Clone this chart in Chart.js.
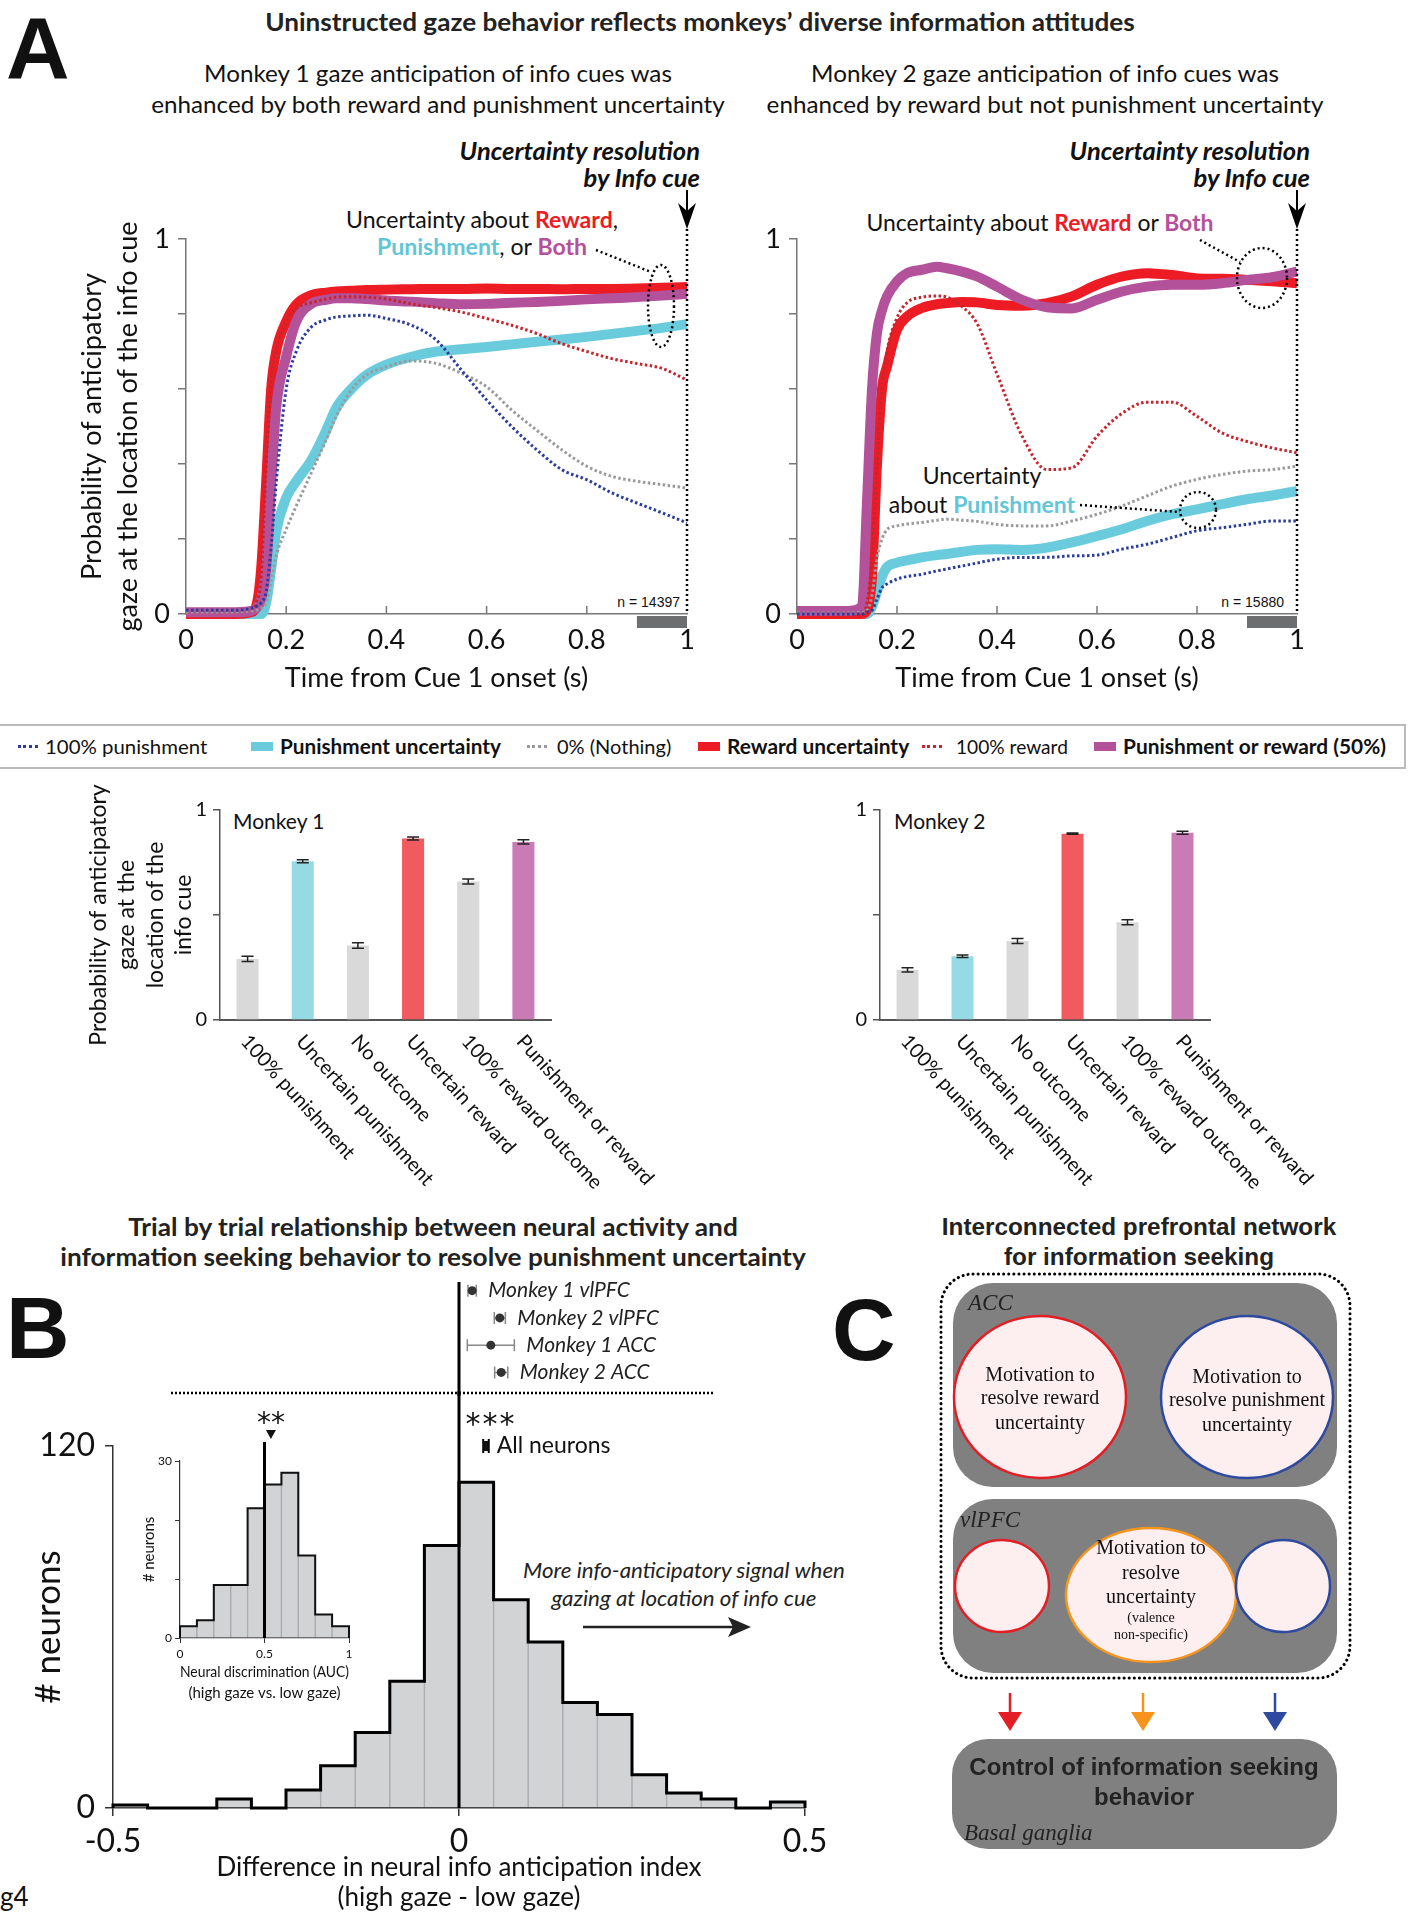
<!DOCTYPE html>
<html>
<head>
<meta charset="utf-8">
<script src="https://cdn.jsdelivr.net/npm/chart.js@4.4.1/dist/chart.umd.min.js"></script>
<style>
  body { margin: 0; background: #fff; }
  #page { position: relative; width: 1417px; height: 1920px; overflow: hidden; font-family: Lato, "Open Sans", sans-serif; color: #111; }
  .abs { position: absolute; white-space: nowrap; }
  .c { transform: translateX(-50%); text-align: center; }
  .r { transform: translateX(-100%); text-align: right; }
  .arial { font-family: "Liberation Sans", Arial, sans-serif; }
  canvas { position: absolute; }
  .red { color: #ed1c24; font-weight: bold; }
  .cyan { color: #62c6d8; font-weight: bold; }
  .purple { color: #b4519b; font-weight: bold; }
  .swd { position: absolute; top: 19px; width: 20px; height: 0; border-top: 3px dotted; }
  .swt { position: absolute; top: 16px; width: 22px; height: 9px; }
</style>
</head>
<body>
<div id="page">

  <div class="abs arial" style="left:6px;top:4px;font-size:88px;line-height:88px;font-weight:bold;">A</div>
  <div class="abs arial" style="left:6px;top:1284px;font-size:88px;line-height:88px;font-weight:bold;">B</div>
  <div class="abs arial" style="left:832px;top:1286px;font-size:88px;line-height:88px;font-weight:bold;">C</div>

  <div class="abs c" data-w="870" style="left:700px;top:8px;font-size:24px;line-height:28px;font-weight:bold;color:#222;">Uninstructed gaze behavior reflects monkeys’ diverse information attitudes</div>

  <div class="abs c" data-w="574" style="left:438px;top:57px;font-size:24px;line-height:31px;">Monkey 1 gaze anticipation of info cues was<br>enhanced by both reward and punishment uncertainty</div>
  <div class="abs c" data-w="557" style="left:1045px;top:57px;font-size:24px;line-height:31px;">Monkey 2 gaze anticipation of info cues was<br>enhanced by reward but not punishment uncertainty</div>

  <div class="abs r" data-w="240" style="left:700px;top:137px;font-size:25px;line-height:27px;font-weight:bold;font-style:italic;">Uncertainty resolution<br>by Info cue</div>
  <div class="abs r" data-w="240" style="left:1310px;top:137px;font-size:25px;line-height:27px;font-weight:bold;font-style:italic;">Uncertainty resolution<br>by Info cue</div>

  <div class="abs c" data-w="272" style="left:482px;top:206px;font-size:23px;line-height:27px;">Uncertainty about <span class="red">Reward</span>,<br><span class="cyan">Punishment</span>, or <span class="purple">Both</span></div>
  <div class="abs c" data-w="347" style="left:1040px;top:209px;font-size:23px;line-height:27px;">Uncertainty about <span class="red">Reward</span> or <span class="purple">Both</span></div>
  <div class="abs c" data-w="186" style="left:982px;top:461px;font-size:23px;line-height:29px;">Uncertainty<br>about <span class="cyan">Punishment</span></div>

  <div class="abs r arial" style="left:680px;top:593px;font-size:14px;line-height:18px;">n = 14397</div>
  <div class="abs r arial" style="left:1284px;top:593px;font-size:14px;line-height:18px;">n = 15880</div>

  <div id="legend" class="abs" style="left:0;top:724px;width:1404px;height:41px;border-top:2px solid #bbb;border-bottom:2px solid #bbb;border-right:2px solid #bbb;"></div>

  <div class="abs" style="left:233px;top:807px;font-size:21px;line-height:27px;">Monkey 1</div>
  <div class="abs" style="left:894px;top:807px;font-size:21px;line-height:27px;">Monkey 2</div>

  <div class="abs c" data-w="745" style="left:433px;top:1212px;font-size:24px;line-height:30px;font-weight:bold;color:#222;">Trial by trial relationship between neural activity and<br>information seeking behavior to resolve punishment uncertainty</div>
  <div class="abs c arial" data-w="394" style="left:1139px;top:1212px;font-size:24px;line-height:30px;font-weight:bold;color:#222;">Interconnected prefrontal network<br>for information seeking</div>

  <div class="abs c" data-w="322" style="left:684px;top:1556px;font-size:21px;line-height:28px;font-style:italic;color:#222;">More info-anticipatory signal when<br>gazing at location of info cue</div>

  <div class="abs" style="left:0px;top:1880px;font-size:26px;line-height:32px;">g4</div>

  <canvas id="lineM1" width="720" height="560" style="left:0;top:150px;"></canvas>
  <canvas id="lineM2" width="697" height="560" style="left:720px;top:150px;"></canvas>
  <canvas id="barM1" width="680" height="420" style="left:60px;top:780px;"></canvas>
  <canvas id="barM2" width="577" height="420" style="left:840px;top:780px;"></canvas>
  <canvas id="forest" width="820" height="126" style="left:0;top:1270px;"></canvas>
  <canvas id="hist" width="840" height="529" style="left:0;top:1391px;"></canvas>
  <canvas id="inset" width="300" height="310" style="left:100px;top:1400px;"></canvas>

  <svg width="1417" height="1920" style="position:absolute;left:0;top:0;" xmlns="http://www.w3.org/2000/svg">
    <g stroke="#000" fill="#000">
      <line x1="687" y1="190" x2="687" y2="212" stroke-width="2"/>
      <path d="M687 229 L678 203 L687 211 L696 203 Z" stroke="none"/>
      <line x1="687" y1="229" x2="687" y2="614" stroke-width="2.5" stroke-dasharray="2 3"/>
      <line x1="1297" y1="190" x2="1297" y2="212" stroke-width="2"/>
      <path d="M1297 229 L1288 203 L1297 211 L1306 203 Z" stroke="none"/>
      <line x1="1297" y1="229" x2="1297" y2="614" stroke-width="2.5" stroke-dasharray="2 3"/>
    </g>
    <g fill="none" stroke="#000" stroke-width="2.5" stroke-dasharray="2 3">
      <ellipse cx="661" cy="306" rx="13" ry="41"/>
      <line x1="596" y1="250" x2="651" y2="272"/>
      <ellipse cx="1262" cy="278" rx="25" ry="30"/>
      <line x1="1200" y1="240" x2="1240" y2="262"/>
      <ellipse cx="1198" cy="510" rx="18" ry="18"/>
      <line x1="1080" y1="505" x2="1180" y2="512"/>
    </g>
    <line x1="583" y1="1627" x2="735" y2="1627" stroke="#222" stroke-width="2.5"/>
    <path d="M751 1627 L728 1617 L733 1627 L728 1637 Z" fill="#222"/>

    <!-- panel C -->
    <rect x="941" y="1274" width="409" height="404" rx="32" fill="none" stroke="#000" stroke-width="3" stroke-dasharray="0.1 5" stroke-linecap="round"/>
    <rect x="953" y="1283" width="384" height="204" rx="40" fill="#808080"/>
    <rect x="953" y="1499" width="384" height="174" rx="40" fill="#808080"/>
    <g font-family="Liberation Serif, DejaVu Serif, serif" font-style="italic" font-size="23" fill="#222">
      <text x="968" y="1310">ACC</text>
      <text x="960" y="1527">vlPFC</text>
    </g>
    <g stroke-width="2.5" fill="#fdeef0">
      <ellipse cx="1040" cy="1397" rx="86" ry="81" stroke="#e31e24"/>
      <ellipse cx="1247" cy="1397" rx="86" ry="81" stroke="#2e4aa0"/>
      <ellipse cx="1002" cy="1586" rx="47" ry="46" stroke="#e31e24"/>
      <ellipse cx="1151" cy="1595" rx="85" ry="67" stroke="#f7941d"/>
      <ellipse cx="1283" cy="1586" rx="47" ry="46" stroke="#2e4aa0"/>
    </g>
    <g font-family="Liberation Serif, DejaVu Serif, serif" font-size="20" fill="#111" text-anchor="middle">
      <text x="1040" y="1381">Motivation to</text>
      <text x="1040" y="1404">resolve reward</text>
      <text x="1040" y="1429">uncertainty</text>
      <text x="1247" y="1383">Motivation to</text>
      <text x="1247" y="1406">resolve punishment</text>
      <text x="1247" y="1431">uncertainty</text>
      <text x="1151" y="1554">Motivation to</text>
      <text x="1151" y="1579">resolve</text>
      <text x="1151" y="1603">uncertainty</text>
      <text x="1151" y="1622" font-size="14">(valence</text>
      <text x="1151" y="1639" font-size="14">non-specific)</text>
    </g>
    <g stroke-width="2.5">
      <line x1="1010" y1="1693" x2="1010" y2="1713" stroke="#e31e24"/>
      <path d="M998 1712 L1022 1712 L1010 1731 Z" fill="#e31e24"/>
      <line x1="1143" y1="1693" x2="1143" y2="1713" stroke="#f7941d"/>
      <path d="M1131 1712 L1155 1712 L1143 1731 Z" fill="#f7941d"/>
      <line x1="1275" y1="1693" x2="1275" y2="1713" stroke="#2e4aa0"/>
      <path d="M1263 1712 L1287 1712 L1275 1731 Z" fill="#2e4aa0"/>
    </g>
    <rect x="952" y="1739" width="385" height="110" rx="36" fill="#808080"/>
    <g font-family="Liberation Sans, Arial, sans-serif" font-weight="bold" font-size="24" fill="#222" text-anchor="middle">
      <text x="1144" y="1775">Control of information seeking</text>
      <text x="1144" y="1805">behavior</text>
    </g>
    <text x="964" y="1840" font-family="Liberation Serif, DejaVu Serif, serif" font-style="italic" font-size="23" fill="#222">Basal ganglia</text>
  </svg>
</div>

<script>
// ---------- data ----------
const timeS = [0, 0.1, 0.13, 0.14, 0.15, 0.16, 0.17, 0.18, 0.2, 0.22, 0.25, 0.28, 0.3, 0.33, 0.36, 0.4, 0.45, 0.5, 0.55, 0.6, 0.65, 0.7, 0.75, 0.8, 0.85, 0.9, 0.95, 1.0];

const seriesLabels = ['100% punishment', 'Punishment uncertainty', '0% (Nothing)', 'Reward uncertainty', '100% reward', 'Punishment or reward (50%)'];
const seriesColors = ['#2b3d9b', '#6acbdc', '#9a9a9a', '#ed1c24', '#c4262e', '#b4519b'];
const seriesDotted = [true, false, true, false, true, false];
const seriesOrder  = [0, 3, 0, 2, 0, 1];

// monkey 1 gaze probability
const m1Pun100  = [0.01,0.01,0.015,0.02,0.03,0.06,0.18,0.35,0.6,0.7,0.765,0.785,0.792,0.795,0.797,0.788,0.77,0.73,0.65,0.571,0.5,0.438,0.385,0.358,0.323,0.296,0.27,0.243];
const m1PunUnc  = [0,0,0,0,0,0.03,0.12,0.22,0.31,0.354,0.41,0.49,0.55,0.6,0.637,0.665,0.686,0.7,0.706,0.712,0.719,0.726,0.732,0.739,0.747,0.755,0.763,0.773];
const m1Nothing = [0.005,0.005,0.008,0.01,0.015,0.03,0.09,0.155,0.226,0.288,0.376,0.465,0.527,0.597,0.637,0.659,0.675,0.668,0.642,0.606,0.544,0.49,0.438,0.394,0.367,0.354,0.345,0.336];
const m1RewUnc  = [0,0,0.005,0.02,0.12,0.35,0.6,0.7,0.78,0.825,0.85,0.857,0.86,0.862,0.864,0.865,0.866,0.867,0.867,0.868,0.867,0.867,0.866,0.867,0.867,0.868,0.87,0.872];
const m1Rew100  = [0.005,0.005,0.01,0.03,0.1,0.4,0.62,0.7,0.78,0.815,0.83,0.84,0.845,0.846,0.845,0.84,0.827,0.817,0.805,0.788,0.77,0.748,0.721,0.7,0.681,0.668,0.655,0.624];
const m1Both    = [0.005,0.005,0.008,0.015,0.04,0.12,0.35,0.55,0.686,0.78,0.827,0.838,0.842,0.842,0.84,0.836,0.833,0.829,0.826,0.827,0.83,0.832,0.835,0.839,0.842,0.845,0.849,0.854];

// monkey 2 gaze probability
const m2Pun100  = [0,0,0,0.005,0.01,0.04,0.07,0.08,0.093,0.1,0.106,0.115,0.12,0.128,0.136,0.146,0.151,0.151,0.155,0.157,0.173,0.186,0.204,0.222,0.23,0.239,0.248,0.248];
const m2PunUnc  = [0,0,0,0,0.02,0.06,0.1,0.125,0.137,0.143,0.151,0.157,0.16,0.166,0.171,0.173,0.171,0.177,0.191,0.208,0.226,0.248,0.266,0.279,0.293,0.306,0.316,0.328];
const m2Nothing = [0.003,0.003,0.005,0.01,0.05,0.15,0.2,0.225,0.235,0.24,0.244,0.25,0.253,0.25,0.247,0.239,0.235,0.235,0.248,0.266,0.288,0.315,0.341,0.359,0.372,0.381,0.385,0.394];
const m2RewUnc  = [0,0,0,0.01,0.1,0.4,0.6,0.66,0.758,0.793,0.816,0.826,0.829,0.832,0.831,0.824,0.822,0.829,0.847,0.878,0.9,0.909,0.904,0.895,0.894,0.891,0.887,0.882];
const m2Rew100  = [0,0,0.005,0.03,0.15,0.4,0.6,0.7,0.79,0.83,0.845,0.848,0.845,0.82,0.775,0.64,0.475,0.385,0.39,0.474,0.535,0.565,0.565,0.527,0.483,0.46,0.443,0.43];
const m2Both    = [0.008,0.008,0.02,0.3,0.6,0.75,0.81,0.847,0.887,0.909,0.918,0.926,0.922,0.913,0.9,0.873,0.838,0.818,0.815,0.838,0.86,0.873,0.878,0.878,0.882,0.891,0.898,0.913];

const cueWindow = [0.9, 1.0];

// bar summaries
const barCats   = ['100% punishment', 'Uncertain punishment', 'No outcome', 'Uncertain reward', '100% reward outcome', 'Punishment or reward'];
const barColors = ['#d9d9d9', '#96dae6', '#d9d9d9', '#f15a5e', '#d9d9d9', '#c97bb6'];
const m1Bars = [0.291, 0.756, 0.355, 0.864, 0.660, 0.848];
const m1Err  = [0.012, 0.007, 0.013, 0.007, 0.012, 0.010];
const m2Bars = [0.239, 0.304, 0.376, 0.887, 0.465, 0.892];
const m2Err  = [0.010, 0.006, 0.012, 0.003, 0.012, 0.007];

// panel B
const diffEdges  = [-0.5,-0.45,-0.4,-0.35,-0.3,-0.25,-0.2,-0.15,-0.1,-0.05,0,0.05,0.1,0.15,0.2,0.25,0.3,0.35,0.4,0.45,0.5];
const diffCounts = [1,0,0,3,0,6,14,25,42,87,108,69,55,35,31,11,5,3,0,2];
const aucEdges   = [0,0.1,0.2,0.3,0.4,0.5,0.6,0.7,0.8,0.9,1];
const aucCounts  = [2,3,9,9,22,26,28,14,4,2];
const aucMarker  = 0.538;
const forestNames = ['Monkey 1 vlPFC', 'Monkey 2 vlPFC', 'Monkey 1 ACC', 'Monkey 2 ACC'];
const forestMean  = [0.019, 0.059, 0.046, 0.061];
const forestErr   = [0.006, 0.008, 0.034, 0.0095];
const allMean = 0.039, allErr = 0.004;

// ---------- setup ----------
Chart.defaults.font.family = 'Lato, "Open Sans", sans-serif';
Chart.defaults.color = '#111';
Chart.defaults.animation = false;
Chart.defaults.plugins.legend.display = false;
Chart.defaults.plugins.tooltip.enabled = false;

const AX = '#777';
const fmt1 = v => String(Math.round(v * 10) / 10);

// legend strip
const legendX = [18, 251, 527, 698, 922, 1094];
const legendTextX = [45, 280, 557, 727, 956, 1123];
const legendTextW = [162, 221, 114, 182, 112, 263];
const legendBox = document.getElementById('legend');
seriesLabels.forEach((lab, i) => {
  const sw = document.createElement('span');
  sw.style.left = legendX[i] + 'px';
  if (seriesDotted[i]) { sw.className = 'swd'; sw.style.borderTopColor = seriesColors[i]; }
  else { sw.className = 'swt'; sw.style.background = seriesColors[i]; }
  legendBox.appendChild(sw);
  const t = document.createElement('div');
  t.className = 'abs';
  t.dataset.w = legendTextW[i];
  t.style.left = legendTextX[i] + 'px';
  t.style.top = '8px';
  t.style.fontSize = '20px';
  t.style.lineHeight = '24px';
  t.style.fontWeight = seriesDotted[i] ? 'normal' : 'bold';
  t.textContent = lab;
  legendBox.appendChild(t);
});

// squeeze text blocks to the reference's (narrow-font) widths
function fitText() {
  document.querySelectorAll('[data-w]').forEach(el => {
    const k = (+el.dataset.w) / el.scrollWidth;
    if (el.classList.contains('c')) { el.style.transformOrigin = 'center'; el.style.transform = `translateX(-50%) scaleX(${k})`; }
    else if (el.classList.contains('r')) { el.style.transformOrigin = 'right'; el.style.transform = `translateX(-100%) scaleX(${k})`; }
    else { el.style.transformOrigin = 'left'; el.style.transform = `scaleX(${k})`; }
  });
}
fitText();
if (document.fonts && document.fonts.ready) document.fonts.ready.then(fitText);

// ---------- panel A: time courses ----------
const lineExtras = {
  id: 'lineExtras',
  afterDraw(chart) {
    const {ctx, chartArea: a, scales: {x}} = chart;
    ctx.save();
    ctx.strokeStyle = AX;
    ctx.lineWidth = 1.5;
    x.ticks.forEach(t => {
      if (t.value > 0 && t.value < 1) {
        const px = x.getPixelForValue(t.value);
        ctx.beginPath(); ctx.moveTo(px, a.bottom); ctx.lineTo(px, a.bottom - 8); ctx.stroke();
      }
    });
    const x0 = x.getPixelForValue(cueWindow[0]), x1 = x.getPixelForValue(cueWindow[1]);
    ctx.fillStyle = '#6d6e70';
    ctx.fillRect(x0, a.bottom + 2, x1 - x0, 12);
    ctx.restore();
  }
};

function makeLineChart(id, values, o) {
  const datasets = values.map((vals, i) => ({
    label: seriesLabels[i],
    data: timeS.map((t, j) => ({x: t, y: vals[j]})),
    borderColor: seriesColors[i],
    borderWidth: seriesDotted[i] ? 3 : 10,
    borderDash: seriesDotted[i] ? [2.5, 2.5] : [],
    order: seriesOrder[i],
    pointRadius: 0,
    cubicInterpolationMode: 'monotone',
    clip: false
  }));
  return new Chart(document.getElementById(id), {
    type: 'line',
    data: {datasets},
    options: {
      responsive: false,
      layout: {padding: o.padding},
      scales: {
        x: {
          type: 'linear', min: 0, max: 1,
          ticks: {stepSize: 0.2, font: {size: 27}, padding: 10, callback: fmt1},
          grid: {drawOnChartArea: false, drawTicks: false},
          border: {color: AX, width: 1.5},
          title: {display: true, text: 'Time from Cue 1 onset (s)', font: {size: 27}, padding: {top: 0, bottom: 16}},
          afterFit: s => { s.height = o.xH; }
        },
        y: {
          min: 0, max: 1,
          ticks: {stepSize: 0.2, font: {size: 27}, padding: 8, callback: v => (v === 0 || v === 1) ? String(v) : ''},
          grid: {drawOnChartArea: false, tickLength: 8, color: AX, lineWidth: 1.5},
          border: {color: AX, width: 1.5},
          title: o.yTitle,
          afterFit: s => { s.width = o.yW; }
        }
      }
    },
    plugins: [lineExtras]
  });
}

makeLineChart('lineM1', [m1Pun100, m1PunUnc, m1Nothing, m1RewUnc, m1Rew100, m1Both], {
  padding: {top: 89, right: 33, left: 0, bottom: 0}, xH: 96, yW: 186,
  yTitle: {display: true, text: ['Probability of anticipatory', 'gaze at the location of the info cue'],
           font: {size: 27, lineHeight: 1.333}, padding: {top: 74, bottom: 0}}
});
makeLineChart('lineM2', [m2Pun100, m2PunUnc, m2Nothing, m2RewUnc, m2Rew100, m2Both], {
  padding: {top: 89, right: 120, left: 0, bottom: 0}, xH: 96, yW: 77,
  yTitle: {display: false}
});

// ---------- panel A: bar summaries ----------
function barExtras(errs) {
  return {
    id: 'barExtras',
    afterDraw(chart) {
      const {ctx, chartArea: a, scales: {x, y}} = chart;
      const vals = chart.data.datasets[0].data;
      ctx.save();
      ctx.strokeStyle = '#222';
      ctx.lineWidth = 1.5;
      vals.forEach((v, i) => {
        const px = x.getPixelForValue(i);
        const yt = y.getPixelForValue(v + errs[i]), yb = y.getPixelForValue(v - errs[i]);
        ctx.beginPath();
        ctx.moveTo(px, yt); ctx.lineTo(px, yb);
        ctx.moveTo(px - 6, yt); ctx.lineTo(px + 6, yt);
        ctx.moveTo(px - 6, yb); ctx.lineTo(px + 6, yb);
        ctx.stroke();
      });
      ctx.fillStyle = '#111';
      ctx.font = '20px Lato, "Open Sans", sans-serif';
      ctx.textBaseline = 'middle';
      ctx.textAlign = 'left';
      chart.data.labels.forEach((lab, i) => {
        ctx.save();
        ctx.translate(x.getPixelForValue(i) - 3, a.bottom + 18);
        ctx.rotate(48 * Math.PI / 180);
        ctx.fillText(lab, 0, 0);
        ctx.restore();
      });
      ctx.restore();
    }
  };
}

function makeBarChart(id, vals, errs, o) {
  return new Chart(document.getElementById(id), {
    type: 'bar',
    data: {labels: barCats, datasets: [{data: vals, backgroundColor: barColors, barPercentage: 0.4, categoryPercentage: 1}]},
    options: {
      responsive: false,
      layout: {padding: o.padding},
      scales: {
        x: {
          ticks: {display: false},
          grid: {display: false},
          border: {color: '#555', width: 2},
          afterFit: s => { s.height = o.xH; }
        },
        y: {
          min: 0, max: 1,
          ticks: {stepSize: 0.5, font: {size: 20}, padding: 6, callback: v => (v === 0 || v === 1) ? String(v) : ''},
          grid: {drawOnChartArea: false, tickLength: 7, color: '#555', lineWidth: 1.5},
          border: {color: '#555', width: 1.5},
          title: o.yTitle,
          afterFit: s => { s.width = o.yW; }
        }
      }
    },
    plugins: [barExtras(errs)]
  });
}

makeBarChart('barM1', m1Bars, m1Err, {
  padding: {top: 30, right: 189, left: 0, bottom: 0}, xH: 180, yW: 160,
  yTitle: {display: true, text: ['Probability of anticipatory', 'gaze at the', 'location of the', 'info cue'],
           font: {size: 23, lineHeight: 1.24}, padding: {top: 24, bottom: 0}}
});
makeBarChart('barM2', m2Bars, m2Err, {
  padding: {top: 30, right: 207, left: 0, bottom: 0}, xH: 180, yW: 40,
  yTitle: {display: false}
});

// ---------- panel B ----------
function stepOutline(edges, counts) {
  const pts = [{x: edges[0], y: 0}];
  counts.forEach((c, i) => pts.push({x: edges[i], y: c}));
  pts.push({x: edges[edges.length - 1], y: 0});
  return pts;
}
function binCenters(edges, counts) {
  return counts.map((c, i) => ({x: (edges[i] + edges[i + 1]) / 2, y: c}));
}

// forest plot rows above the histogram
const forestExtras = {
  id: 'forestExtras',
  beforeDatasetsDraw(chart) {
    const {ctx, scales: {x, y}} = chart;
    const x0 = x.getPixelForValue(0);
    ctx.save();
    ctx.strokeStyle = '#000';
    ctx.lineWidth = 3;
    ctx.beginPath(); ctx.moveTo(x0, 12); ctx.lineTo(x0, chart.height); ctx.stroke();
    ctx.lineWidth = 1.5;
    ctx.strokeStyle = '#888';
    ctx.font = 'italic 21px Lato, "Open Sans", sans-serif';
    ctx.fillStyle = '#222';
    ctx.textBaseline = 'middle';
    forestNames.forEach((n, i) => {
      const py = y.getPixelForValue(i);
      const xl = x.getPixelForValue(forestMean[i] - forestErr[i]);
      const xr = x.getPixelForValue(forestMean[i] + forestErr[i]);
      ctx.beginPath();
      ctx.moveTo(xl, py); ctx.lineTo(xr, py);
      ctx.moveTo(xl, py - 6); ctx.lineTo(xl, py + 6);
      ctx.moveTo(xr, py - 6); ctx.lineTo(xr, py + 6);
      ctx.stroke();
      ctx.fillText(n, xr + 12, py);
    });
    ctx.strokeStyle = '#000';
    ctx.lineWidth = 2.5;
    ctx.setLineDash([2, 2]);
    ctx.beginPath(); ctx.moveTo(171, 123); ctx.lineTo(713, 123); ctx.stroke();
    ctx.restore();
  }
};

new Chart(document.getElementById('forest'), {
  type: 'scatter',
  data: {datasets: [{data: forestMean.map((m, i) => ({x: m, y: forestNames[i]})), pointRadius: 4.5, pointBackgroundColor: '#333', pointBorderWidth: 0}]},
  options: {
    responsive: false,
    layout: {padding: {left: 113, right: 15, top: 7, bottom: 10}},
    scales: {
      x: {type: 'linear', min: -0.5, max: 0.5, display: false},
      y: {type: 'category', labels: forestNames, offset: true, display: false}
    }
  },
  plugins: [forestExtras]
});

const histExtras = {
  id: 'histExtras',
  afterDatasetsDraw(chart) {
    const {ctx, chartArea: a, scales: {x}} = chart;
    const x0 = x.getPixelForValue(0);
    ctx.save();
    ctx.strokeStyle = '#000';
    ctx.lineWidth = 3;
    ctx.beginPath(); ctx.moveTo(x0, 0); ctx.lineTo(x0, a.bottom); ctx.stroke();
    // all-neurons mean
    const xl = x.getPixelForValue(allMean - allErr), xr = x.getPixelForValue(allMean + allErr);
    ctx.lineWidth = 2;
    ctx.beginPath();
    ctx.moveTo(xl, a.top - 7); ctx.lineTo(xl, a.top + 7);
    ctx.moveTo(xr, a.top - 7); ctx.lineTo(xr, a.top + 7);
    ctx.stroke();
    ctx.fillStyle = '#111';
    ctx.fillRect(xl, a.top - 5, xr - xl, 10);
    ctx.font = '23px Lato, "Open Sans", sans-serif';
    ctx.textBaseline = 'middle';
    ctx.fillText('All neurons', xr + 8, a.top);
    ctx.font = '30px "DejaVu Sans", sans-serif';
    ctx.textAlign = 'center';
    ctx.textBaseline = 'alphabetic';
    [0, 1, 2].forEach(k => ctx.fillText('*', x0 + 14 + 17 * k, a.top - 12));
    ctx.restore();
  }
};

new Chart(document.getElementById('hist'), {
  data: {
    datasets: [
      {type: 'line', data: stepOutline(diffEdges, diffCounts), stepped: 'before', borderColor: '#000', borderWidth: 3, pointRadius: 0, clip: false},
      {type: 'bar', data: binCenters(diffEdges, diffCounts), backgroundColor: '#d1d3d4', borderColor: '#a7a9ac', borderWidth: 1, barPercentage: 1, categoryPercentage: 1, grouped: false}
    ]
  },
  options: {
    responsive: false,
    layout: {padding: {left: 0, right: 35, top: 55, bottom: 0}},
    scales: {
      x: {
        type: 'linear', min: -0.5, max: 0.5, offset: false,
        ticks: {stepSize: 0.5, font: {size: 32}, padding: 6},
        grid: {drawOnChartArea: false, tickLength: 8, color: '#333', lineWidth: 1.5, offset: false},
        border: {color: '#333', width: 1.5},
        title: {display: true, text: ['Difference in neural info anticipation index', '(high gaze - low gaze)'], font: {size: 26, lineHeight: 1.13}, padding: {top: 0, bottom: 8}},
        afterFit: s => { s.height = 112; }
      },
      y: {
        min: 0, max: 120,
        ticks: {stepSize: 120, font: {size: 32}, padding: 10},
        grid: {drawOnChartArea: false, tickLength: 8, color: '#333', lineWidth: 1.5},
        border: {color: '#333', width: 1.5},
        title: {display: true, text: '# neurons', font: {size: 35, lineHeight: 1.2}, padding: {top: 28, bottom: 0}},
        afterFit: s => { s.width = 113; }
      }
    }
  },
  plugins: [histExtras]
});

const insetExtras = {
  id: 'insetExtras',
  afterDatasetsDraw(chart) {
    const {ctx, chartArea: a, scales: {x}} = chart;
    const xm = x.getPixelForValue(0.5);
    ctx.save();
    ctx.strokeStyle = '#000';
    ctx.lineWidth = 3;
    ctx.beginPath(); ctx.moveTo(xm, a.bottom); ctx.lineTo(xm, a.top - 19); ctx.stroke();
    const xt = x.getPixelForValue(aucMarker);
    ctx.fillStyle = '#111';
    ctx.beginPath(); ctx.moveTo(xt - 5, a.top - 31); ctx.lineTo(xt + 5, a.top - 31); ctx.lineTo(xt, a.top - 22); ctx.closePath(); ctx.fill();
    ctx.font = '28px "DejaVu Sans", sans-serif';
    ctx.textAlign = 'center';
    ctx.textBaseline = 'alphabetic';
    ctx.fillText('*', xt - 7, a.top - 29);
    ctx.fillText('*', xt + 7, a.top - 29);
    ctx.restore();
  }
};

new Chart(document.getElementById('inset'), {
  data: {
    datasets: [
      {type: 'line', data: stepOutline(aucEdges, aucCounts), stepped: 'before', borderColor: '#111', borderWidth: 2, pointRadius: 0, clip: false},
      {type: 'bar', data: binCenters(aucEdges, aucCounts), backgroundColor: '#d1d3d4', borderColor: '#a7a9ac', borderWidth: 1, barPercentage: 1, categoryPercentage: 1, grouped: false}
    ]
  },
  options: {
    responsive: false,
    layout: {padding: {left: 0, right: 51, top: 61, bottom: 0}},
    scales: {
      x: {
        type: 'linear', min: 0, max: 1, offset: false,
        ticks: {stepSize: 0.5, font: {size: 12}, padding: 4, callback: fmt1},
        grid: {drawOnChartArea: false, tickLength: 5, color: '#333', offset: false},
        border: {color: '#333', width: 1.2},
        title: {display: true, text: ['Neural discrimination (AUC)', '(high gaze vs. low gaze)'], font: {size: 15, lineHeight: 1.35}, padding: {top: 0, bottom: 7}},
        afterFit: s => { s.height = 72; }
      },
      y: {
        min: 0, max: 30,
        ticks: {stepSize: 10, font: {size: 12}, padding: 3, callback: v => (v === 0 || v === 30) ? String(v) : ''},
        grid: {drawOnChartArea: false, tickLength: 5, color: '#333'},
        border: {color: '#333', width: 1.2},
        title: {display: true, text: '# neurons', font: {size: 15, lineHeight: 1.2}, padding: {top: 40, bottom: 0}},
        afterFit: s => { s.width = 80; }
      }
    }
  },
  plugins: [insetExtras]
});
</script>
</body>
</html>
